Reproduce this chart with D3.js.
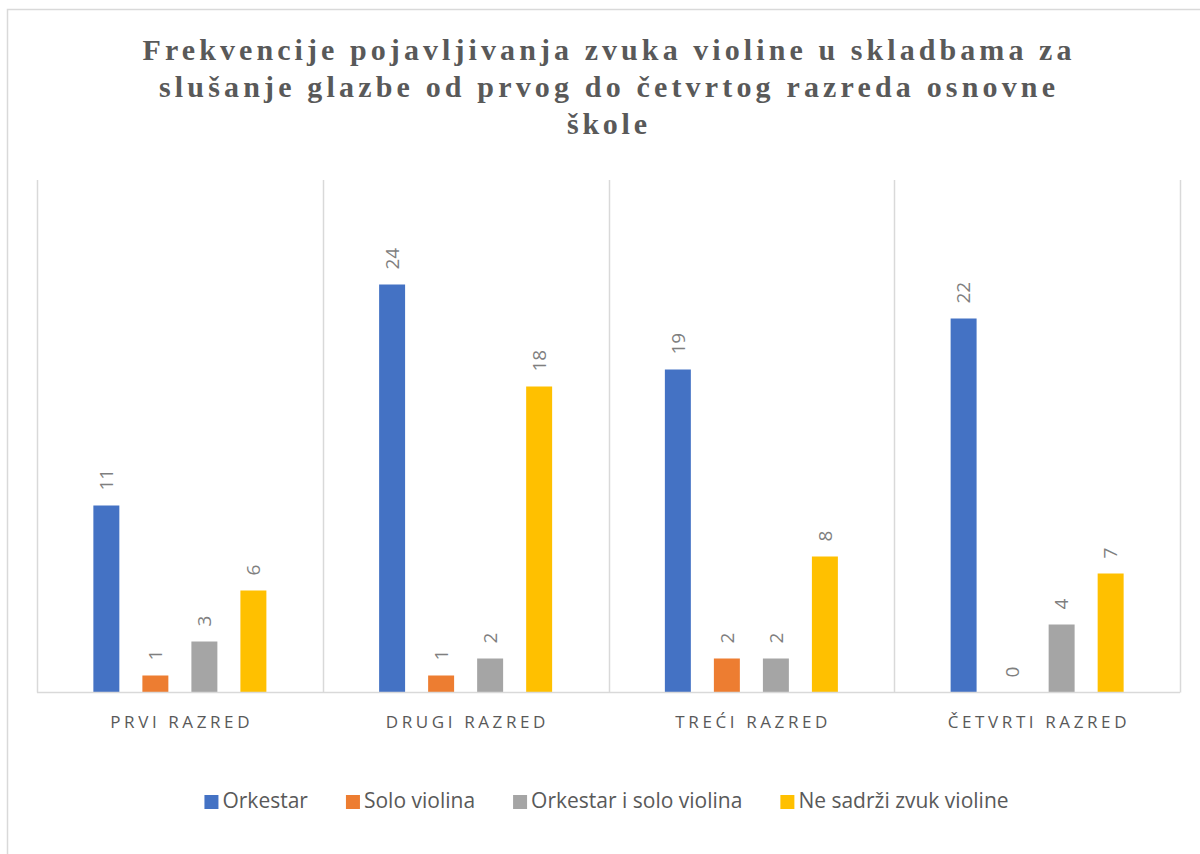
<!DOCTYPE html>
<html>
<head>
<meta charset="utf-8">
<script src="https://cdn.jsdelivr.net/npm/d3@7"></script>
<style>
  body { margin: 0; background: #fff; }
  svg { display: block; }
</style>
</head>
<body>
<div id="root"></div>
<script>
var categories = ['PRVI RAZRED', 'DRUGI RAZRED', 'TREĆI RAZRED', 'ČETVRTI RAZRED'];
var seriesNames = ['Orkestar', 'Solo violina', 'Orkestar i solo violina', 'Ne sadrži zvuk violine'];
var orkestar = [11, 24, 19, 22];
var soloViolina = [1, 1, 2, 0];
var orkestarISolo = [3, 2, 2, 4];
var neSadrzi = [6, 18, 8, 7];
var colors = ['#4472c4', '#ed7d31', '#a5a5a5', '#ffc000'];
var titleLines = [
  'Frekvencije pojavljivanja zvuka violine u skladbama za',
  'slušanje glazbe od prvog do četvrtog razreda osnovne',
  'škole'
];

var width = 1200, height = 854;
var values = [orkestar, soloViolina, orkestarISolo, neSadrzi];

var svg = d3.select('#root')
  .append('svg')
    .attr('width', width)
    .attr('height', height);

// chart border (only left and top fall inside the picture)
svg.append('rect')
  .attr('x', 7.5)
  .attr('y', 9.5)
  .attr('width', 1200)
  .attr('height', 900)
  .attr('fill', 'none')
  .attr('stroke', '#d9d9d9')
  .attr('stroke-width', 1.5);

// title, each line stretched to its width in the original
var titleWidths = [929, 896, 80];
titleLines.forEach((line, i) => {
  svg.append('text')
    .attr('x', 607)
    .attr('y', 60 + i * 37)
    .attr('text-anchor', 'middle')
    .attr('font-family', '"Liberation Serif", "Times New Roman", serif')
    .attr('font-weight', 'bold')
    .attr('font-size', 30)
    .attr('fill', '#595959')
    .attr('textLength', titleWidths[i])
    .attr('lengthAdjust', 'spacing')
    .text(line);
});

var plot = { left: 37, right: 1180, top: 182.5, bottom: 692.5 };

var x0 = d3.scaleBand()
  .domain(categories)
  .range([plot.left, plot.right])
  .paddingInner(0)
  .paddingOuter(0);

var x1 = d3.scaleBand()
  .domain(seriesNames)
  .range([0, x0.bandwidth()])
  .paddingInner(0.47)
  .paddingOuter(1.15);

var y = d3.scaleLinear()
  .domain([0, 30])
  .range([plot.bottom, plot.top]);

// vertical separators between categories
var bounds = categories.map(c => x0(c)).concat([plot.right]);
svg.selectAll('line.sep')
  .data(bounds)
  .enter()
  .append('line')
    .attr('class', 'sep')
    .attr('x1', d => Math.round(d) + 0.5)
    .attr('x2', d => Math.round(d) + 0.5)
    .attr('y1', 180)
    .attr('y2', plot.bottom)
    .attr('stroke', '#d9d9d9')
    .attr('stroke-width', 1.5);

// bars
var rows = [];
categories.forEach((c, i) => {
  seriesNames.forEach((s, j) => {
    rows.push({ cat: c, series: s, value: values[j][i], color: colors[j] });
  });
});

svg.selectAll('rect.bar')
  .data(rows)
  .enter()
  .append('rect')
    .attr('class', 'bar')
    .attr('x', d => x0(d.cat) + x1(d.series))
    .attr('y', d => y(d.value))
    .attr('width', x1.bandwidth())
    .attr('height', d => y(0) - y(d.value))
    .attr('fill', d => d.color);

// baseline
svg.append('line')
  .attr('x1', plot.left)
  .attr('x2', plot.right)
  .attr('y1', plot.bottom)
  .attr('y2', plot.bottom)
  .attr('stroke', '#d9d9d9')
  .attr('stroke-width', 1.5);

// rotated value labels
svg.selectAll('text.val')
  .data(rows)
  .enter()
  .append('text')
    .attr('class', 'val')
    .attr('transform', d => {
      var cx = x0(d.cat) + x1(d.series) + x1.bandwidth() / 2;
      return 'translate(' + cx + ',' + (y(d.value) - 15) + ') rotate(-90)';
    })
    .attr('dy', '0.35em')
    .attr('font-family', '"Open Sans", sans-serif')
    .attr('font-size', 19)
    .attr('fill', '#7f7f7f')
    .text(d => d.value);

// category labels
svg.selectAll('text.cat')
  .data(categories)
  .enter()
  .append('text')
    .attr('class', 'cat')
    .attr('x', d => x0(d) + x0.bandwidth() / 2 + 1.8)
    .attr('y', 728)
    .attr('text-anchor', 'middle')
    .attr('font-family', '"Open Sans", sans-serif')
    .attr('font-size', 17)
    .attr('letter-spacing', 3.6)
    .attr('fill', '#595959')
    .text(d => d);

// legend
var legend = svg.append('g');
var lx = 0;
seriesNames.forEach((s, i) => {
  var g = legend.append('g').attr('transform', 'translate(' + lx + ',0)');
  g.append('rect')
    .attr('x', 0)
    .attr('y', -13)
    .attr('width', 14)
    .attr('height', 14)
    .attr('fill', colors[i]);
  var t = g.append('text')
    .attr('x', 18)
    .attr('y', 0)
    .attr('font-family', '"Open Sans", sans-serif')
    .attr('font-size', 21)
    .attr('fill', '#595959')
    .text(s);
  lx += 18 + t.node().getComputedTextLength() + 38;
});
var legendWidth = lx - 38;
legend.attr('transform', 'translate(' + (606.5 - legendWidth / 2) + ',808)');
</script>
</body>
</html>
